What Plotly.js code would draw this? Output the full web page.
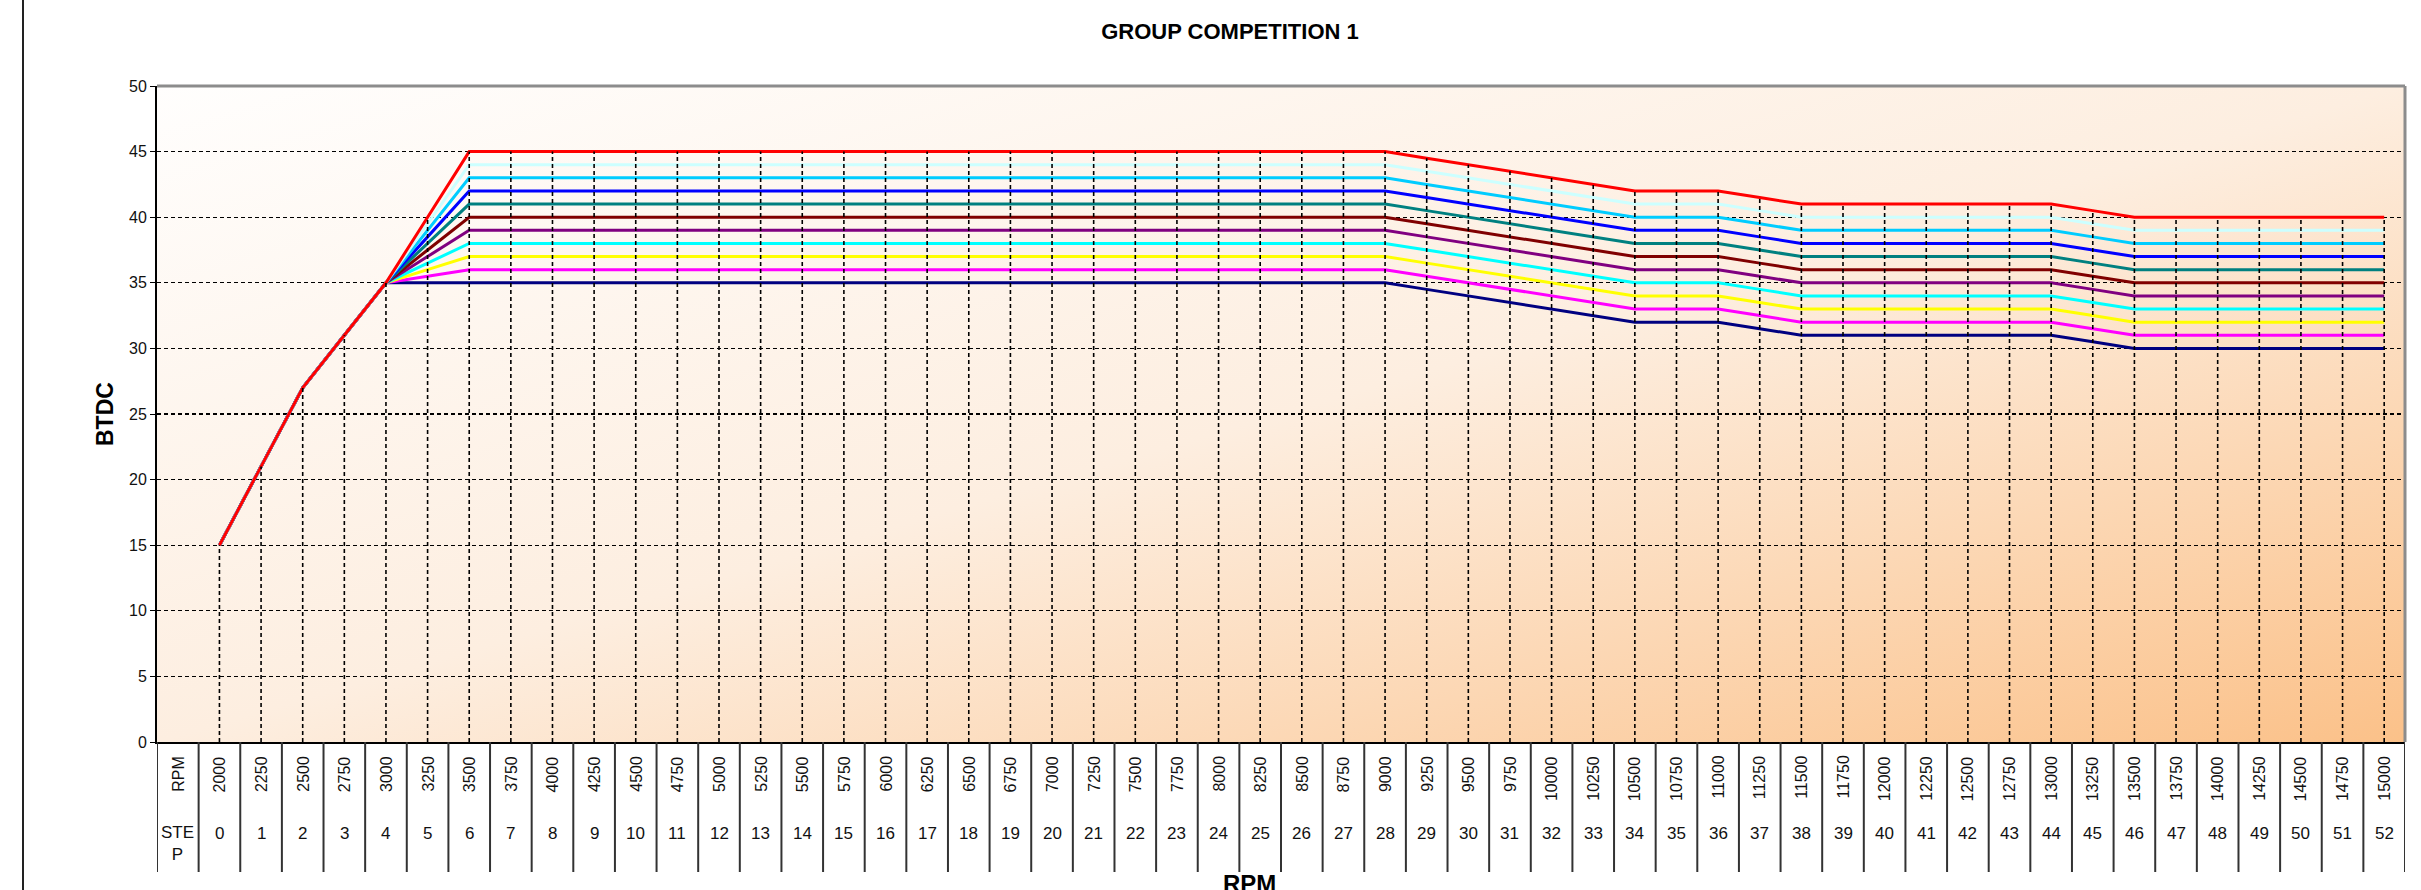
<!DOCTYPE html>
<html>
<head>
<meta charset="utf-8">
<script src="https://cdn.plot.ly/plotly-3.0.1.min.js"></script>
<style>
  html, body { margin: 0; padding: 0; background: #ffffff; }
  #chart { width: 2421px; height: 890px; }
</style>
</head>
<body>
<div id="chart"></div>
<script>
// ---- data ----
const steps = [0,1,2,3,4,5,6,7,8,9,10,11,12,13,14,15,16,17,18,19,20,21,22,23,24,25,26,27,28,29,30,31,32,33,34,35,36,37,38,39,40,41,42,43,44,45,46,47,48,49,50,51,52];
const rpmLabels = ["2000","2250","2500","2750","3000","3250","3500","3750","4000","4250","4500","4750","5000","5250","5500","5750","6000","6250","6500","6750","7000","7250","7500","7750","8000","8250","8500","8750","9000","9250","9500","9750","10000","10250","10500","10750","11000","11250","11500","11750","12000","12250","12500","12750","13000","13250","13500","13750","14000","14250","14500","14750","15000"];

const curve45 = [15,21,27,31,35,40, 45,45,45,45,45, 45,45,45,45,45, 45,45,45,45,45, 45,45,45,45,45, 45,45,45, 44.5,44,43.5,43,42.5,42, 42,42, 41.5, 41,41,41,41,41,41,41, 40.5, 40,40,40,40,40,40,40];
const curve44 = [15,21,27,31,35,39.5, 44,44,44,44,44, 44,44,44,44,44, 44,44,44,44,44, 44,44,44,44,44, 44,44,44, 43.5,43,42.5,42,41.5,41, 41,41, 40.5, 40,40,40,40,40,40,40, 39.5, 39,39,39,39,39,39,39];
const curve43 = [15,21,27,31,35,39, 43,43,43,43,43, 43,43,43,43,43, 43,43,43,43,43, 43,43,43,43,43, 43,43,43, 42.5,42,41.5,41,40.5,40, 40,40, 39.5, 39,39,39,39,39,39,39, 38.5, 38,38,38,38,38,38,38];
const curve42 = [15,21,27,31,35,38.5, 42,42,42,42,42, 42,42,42,42,42, 42,42,42,42,42, 42,42,42,42,42, 42,42,42, 41.5,41,40.5,40,39.5,39, 39,39, 38.5, 38,38,38,38,38,38,38, 37.5, 37,37,37,37,37,37,37];
const curve41 = [15,21,27,31,35,38, 41,41,41,41,41, 41,41,41,41,41, 41,41,41,41,41, 41,41,41,41,41, 41,41,41, 40.5,40,39.5,39,38.5,38, 38,38, 37.5, 37,37,37,37,37,37,37, 36.5, 36,36,36,36,36,36,36];
const curve40 = [15,21,27,31,35,37.5, 40,40,40,40,40, 40,40,40,40,40, 40,40,40,40,40, 40,40,40,40,40, 40,40,40, 39.5,39,38.5,38,37.5,37, 37,37, 36.5, 36,36,36,36,36,36,36, 35.5, 35,35,35,35,35,35,35];
const curve39 = [15,21,27,31,35,37, 39,39,39,39,39, 39,39,39,39,39, 39,39,39,39,39, 39,39,39,39,39, 39,39,39, 38.5,38,37.5,37,36.5,36, 36,36, 35.5, 35,35,35,35,35,35,35, 34.5, 34,34,34,34,34,34,34];
const curve38 = [15,21,27,31,35,36.5, 38,38,38,38,38, 38,38,38,38,38, 38,38,38,38,38, 38,38,38,38,38, 38,38,38, 37.5,37,36.5,36,35.5,35, 35,35, 34.5, 34,34,34,34,34,34,34, 33.5, 33,33,33,33,33,33,33];
const curve37 = [15,21,27,31,35,36, 37,37,37,37,37, 37,37,37,37,37, 37,37,37,37,37, 37,37,37,37,37, 37,37,37, 36.5,36,35.5,35,34.5,34, 34,34, 33.5, 33,33,33,33,33,33,33, 32.5, 32,32,32,32,32,32,32];
const curve36 = [15,21,27,31,35,35.5, 36,36,36,36,36, 36,36,36,36,36, 36,36,36,36,36, 36,36,36,36,36, 36,36,36, 35.5,35,34.5,34,33.5,33, 33,33, 32.5, 32,32,32,32,32,32,32, 31.5, 31,31,31,31,31,31,31];
const curve35 = [15,21,27,31,35,35, 35,35,35,35,35, 35,35,35,35,35, 35,35,35,35,35, 35,35,35,35,35, 35,35,35, 34.5,34,33.5,33,32.5,32, 32,32, 31.5, 31,31,31,31,31,31,31, 30.5, 30,30,30,30,30,30,30];

const seriesNames = ["Map 11","Map 10","Map 9","Map 8","Map 7","Map 6","Map 5","Map 4","Map 3","Map 2","Map 1"];
const seriesData  = [curve35, curve36, curve37, curve38, curve39, curve40, curve41, curve42, curve43, curve44, curve45];
const seriesColors = ["#000080","#ff00ff","#ffff00","#00ffff","#800080","#800000","#008080","#0000ff","#00ccff","#ccffff","#ff0000"];

const titleText = "GROUP COMPETITION 1";
const yTitle = "BTDC";
const xTitle = "RPM";
const rpmHeader = "RPM";
const stepHeader = "STE<br>P";

// ---- style ----
const FONT = "Liberation Sans, Arial, sans-serif";

// plot area geometry (px) for converting table rows to paper coordinates
const PLOT_TOP = 86, PLOT_BOTTOM = 742, H = 890, W = 2421, PLOT_LEFT = 157, PLOT_RIGHT = 2405;
const PH = PLOT_BOTTOM - PLOT_TOP, PW = PLOT_RIGHT - PLOT_LEFT;
const py = px => (PLOT_BOTTOM - px) / PH;
const pxX = px => (px - PLOT_LEFT) / PW;

const traces = [];
seriesData.forEach((vals, k) => {
  traces.push({
    type: "scatter", mode: "lines", name: seriesNames[k],
    x: steps, y: vals,
    line: { color: seriesColors[k], width: 3 },
    hoverinfo: "x+y+name"
  });
});

// drop lines from the highest curve down to zero at each step
const dropX = [], dropY = [];
steps.forEach((s, i) => {
  const top = Math.max(...seriesData.map(v => v[i]));
  dropX.push(s, s, null);
  dropY.push(0, top, null);
});
traces.push({
  type: "scatter", mode: "lines", x: dropX, y: dropY,
  line: { color: "#000000", width: 1.6, dash: "4px,3px" },
  hoverinfo: "skip", showlegend: false
});

// table below the plot
const shapes = [];
const tableBottom = py(872);
const bounds = [steps[0] - 1.5].concat(steps.map(s => s - 0.5), [steps[steps.length - 1] + 0.5]);
bounds.forEach(b => {
  shapes.push({ type: "line", xref: "x", yref: "paper", x0: b, x1: b, y0: 0, y1: tableBottom,
    line: { color: "#333333", width: 2 } });
});
// top / right frame of plot area
shapes.push({ type: "line", xref: "paper", yref: "paper", x0: 0, x1: 1, y0: 1, y1: 1, line: { color: "#8c8c8c", width: 3 } });
shapes.push({ type: "line", xref: "paper", yref: "paper", x0: 1, x1: 1, y0: 0, y1: 1, line: { color: "#8c8c8c", width: 3 } });
// outer left border of picture
shapes.push({ type: "line", xref: "paper", yref: "paper", x0: pxX(23), x1: pxX(23), y0: py(H + 2), y1: py(-2), line: { color: "#222222", width: 2 } });

const annotations = [];
steps.forEach((s, i) => {
  annotations.push({ xref: "x", yref: "paper", x: s, y: py(754), text: rpmLabels[i], textangle: -90,
    showarrow: false, xanchor: "center", yanchor: "top", font: { family: FONT, size: 16, color: "#111" } });
  annotations.push({ xref: "x", yref: "paper", x: s, y: py(833), text: String(s),
    showarrow: false, xanchor: "center", yanchor: "middle", font: { family: FONT, size: 17, color: "#111" } });
});
annotations.push({ xref: "x", yref: "paper", x: steps[0] - 1, y: py(754), text: rpmHeader, textangle: -90,
  showarrow: false, xanchor: "center", yanchor: "top", font: { family: FONT, size: 16, color: "#111" } });
annotations.push({ xref: "x", yref: "paper", x: steps[0] - 1, y: py(843.5), text: stepHeader,
  showarrow: false, xanchor: "center", yanchor: "middle", font: { family: FONT, size: 17, color: "#111" } });
annotations.push({ xref: "paper", yref: "paper", x: pxX(1249), y: py(868), text: "<b>" + xTitle + "</b>",
  showarrow: false, xanchor: "center", yanchor: "top", font: { family: FONT, size: 24, color: "#000" } });
annotations.push({ xref: "paper", yref: "paper", x: pxX(105), y: 0.5, text: "<b>" + yTitle + "</b>", textangle: -90,
  showarrow: false, xanchor: "center", yanchor: "middle", font: { family: FONT, size: 23, color: "#000" } });

const gradSvg = "<svg xmlns='http://www.w3.org/2000/svg' width='200' height='100' preserveAspectRatio='none'>" +
  "<defs><linearGradient id='g' x1='0' y1='0' x2='1' y2='1'>" +
  "<stop offset='0' stop-color='#fffefd'/><stop offset='0.5' stop-color='#fdeee0'/><stop offset='1' stop-color='#fbc189'/>" +
  "</linearGradient></defs><rect width='200' height='100' fill='url(#g)'/></svg>";

const layout = {
  width: W, height: H,
  margin: { l: PLOT_LEFT, r: W - PLOT_RIGHT, t: PLOT_TOP, b: H - PLOT_BOTTOM, pad: 0 },
  paper_bgcolor: "#ffffff",
  plot_bgcolor: "rgba(0,0,0,0)",
  showlegend: false,
  title: { text: "<b>" + titleText + "</b>", x: 1230 / W, xanchor: "center", y: 1 - 31 / H, yanchor: "middle",
    xref: "container", yref: "container", font: { family: FONT, size: 22, color: "#000" } },
  xaxis: {
    range: [steps[0] - 1.5, steps[steps.length - 1] + 0.5],
    showgrid: false, zeroline: false, showticklabels: false, ticks: "",
    showline: true, linecolor: "#000", linewidth: 2, fixedrange: true
  },
  yaxis: {
    range: [0, 50], tick0: 0, dtick: 5,
    ticks: "outside", ticklen: 5, tickcolor: "#000", tickwidth: 1,
    showline: true, linecolor: "#000", linewidth: 2, zeroline: false,
    showgrid: true, gridcolor: "#000", gridwidth: 1.4, griddash: "4px,3px",
    tickfont: { family: FONT, size: 16, color: "#111" }, fixedrange: true
  },
  images: [{
    source: "data:image/svg+xml;charset=utf-8," + encodeURIComponent(gradSvg),
    xref: "paper", yref: "paper", x: 0, y: 1, sizex: 1, sizey: 1,
    xanchor: "left", yanchor: "top", sizing: "stretch", layer: "below"
  }],
  shapes: shapes,
  annotations: annotations
};

Plotly.newPlot("chart", traces, layout, { displayModeBar: false, staticPlot: true });
</script>
</body>
</html>
